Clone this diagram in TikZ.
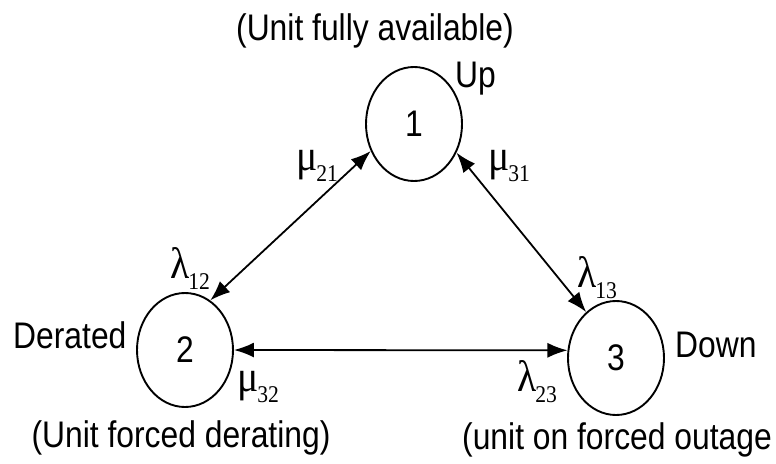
\documentclass[tikz,border=0pt]{standalone}
\usepackage{fontspec}
\setmainfont{Liberation Sans}[FakeStretch=0.86]
\newfontfamily\grkfont{Liberation Serif}[FakeStretch=0.9]
\usetikzlibrary{shapes.geometric,arrows.meta}

\newcommand{\ratelbl}[2]{{\grkfont\fontsize{44}{46}\selectfont #1\kern-1pt\raisebox{-11pt}{\fontsize{24}{26}\selectfont #2}}}

\tikzset{
  state/.style={draw, ellipse, line width=1.9pt, minimum width=96pt, minimum height=114pt, inner sep=0pt},
  biarrow/.style={line width=1.8pt, {Latex[length=20pt,width=15pt]}-{Latex[length=20pt,width=15pt]}},
  lbl/.style={inner sep=0pt, anchor=base west}
}

\begin{document}
\begin{tikzpicture}[x=1pt, y=-1pt, font=\fontsize{37}{40}\selectfont]
\useasboundingbox (0,0) rectangle (776,463);

% States
\node[state] (n1) at (414,124) {1};
\node[state] (n2) at (185,350) {2};
\node[state] (n3) at (616,358) {3};

% State names
\node[lbl] (up) at (455,87) {Up};
\node[lbl] (derated) at (13,348) {Derated};
\node[lbl] (down) at (675,357) {Down};

% Descriptions
\node[inner sep=0pt, anchor=base] (avail) at (375,40) {(Unit fully available)};
\node[inner sep=0pt, anchor=base] (derating) at (181,447) {(Unit forced derating)};
\node[lbl] (outage) at (462,449) {(unit on forced outage};

% Transitions
\draw[biarrow] (n1.212) -- (n2.63);
\draw[biarrow] (n1.326) -- (n3.123);
\draw[biarrow] (n2.east) -- (n3.171);

% Rates
\node[lbl] (mu21) at (296,170) {\ratelbl{μ}{21}};
\node[lbl] (mu31) at (488,170) {\ratelbl{μ}{31}};
\node[lbl] (la12) at (170,278) {\ratelbl{λ}{12}};
\node[lbl] (la13) at (577,287) {\ratelbl{λ}{13}};
\node[lbl] (mu32) at (237,391) {\ratelbl{μ}{32}};
\node[lbl] (la23) at (517,391) {\ratelbl{λ}{23}};

\end{tikzpicture}
\end{document}
